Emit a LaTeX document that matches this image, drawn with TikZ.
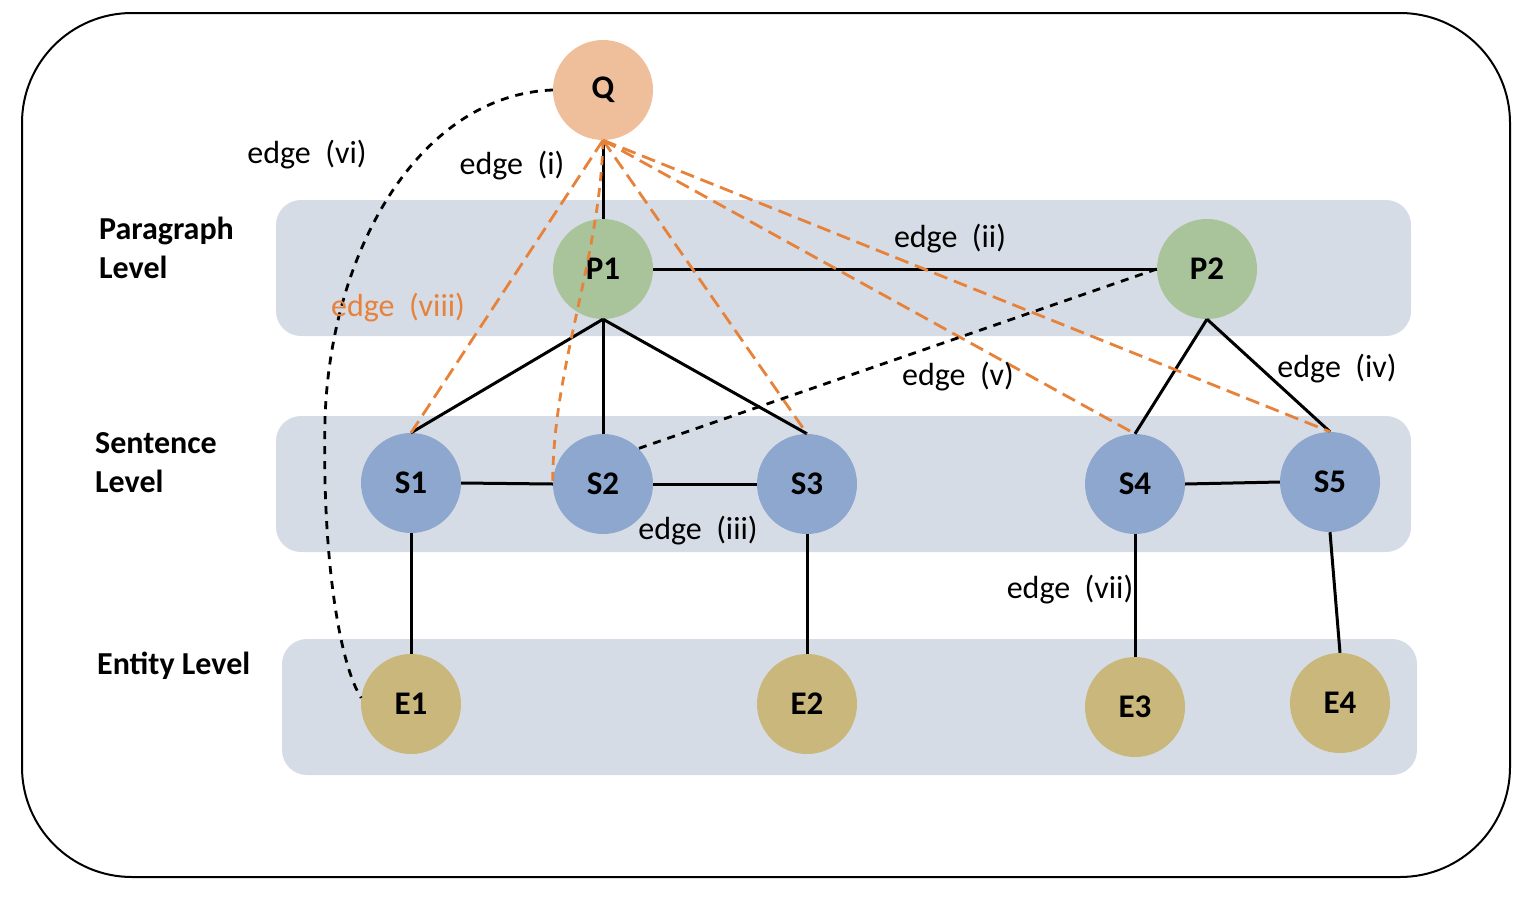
\documentclass[tikz,border=0pt]{standalone}
\usepackage{fontspec}
\setmainfont{Carlito}
\definecolor{band}{HTML}{D6DCE5}
\definecolor{qcol}{HTML}{EFBF9C}
\definecolor{pcol}{HTML}{A9C49B}
\definecolor{scol}{HTML}{8EA7CF}
\definecolor{ecol}{HTML}{C9B77B}
\definecolor{orng}{HTML}{E6823A}
\tikzset{
  vnode/.style={circle, minimum size=100pt, inner sep=0pt, font=\fontsize{33}{38}\selectfont\bfseries},
  qnode/.style={vnode, fill=qcol},
  pnode/.style={vnode, fill=pcol},
  snode/.style={vnode, fill=scol},
  enode/.style={vnode, fill=ecol},
  bandbox/.style={fill=band, rounded corners=25pt},
  solidedge/.style={line width=3pt, black},
  oedge/.style={line width=2.8pt, orng, dash pattern=on 14pt off 7pt},
  oshort/.style={line width=2.8pt, orng, dash pattern=on 9pt off 7pt},
  bedge/.style={line width=2.8pt, black, dash pattern=on 8pt off 7pt},
  elabel/.style={font=\fontsize{32}{38}\selectfont, inner sep=0pt},
  lvlabel/.style={font=\fontsize{32}{39}\selectfont\bfseries, align=left, anchor=west, inner sep=0pt}
}
\begin{document}
\begin{tikzpicture}[x=1pt, y=-1pt]
\useasboundingbox (0,0) rectangle (1530,902);
% outer frame
\draw[line width=2pt, rounded corners=110pt] (22,13) rectangle (1510,877);
% bands
\fill[bandbox] (276,200) rectangle (1411,336);
\fill[bandbox] (276,416) rectangle (1411,552);
\fill[bandbox] (282,639) rectangle (1417,775);
% level labels
\node[lvlabel] (lp) at (99,248) {Paragraph\\Level};
\node[lvlabel] (ls) at (95,463) {Sentence\\Level};
\node[lvlabel] (le) at (97,666) {Entity Level};
% nodes
\node[qnode] (Q) at (603,90) {Q};
\node[pnode] (P1) at (603,269) {P1};
\node[pnode] (P2) at (1207,269) {P2};
\node[snode] (S1) at (411,483) {S1};
\node[snode] (S2) at (603,484) {S2};
\node[snode] (S3) at (807,484) {S3};
\node[snode] (S4) at (1135,484) {S4};
\node[snode] (S5) at (1330,482) {S5};
\node[enode] (E1) at (411,704) {E1};
\node[enode] (E2) at (807,704) {E2};
\node[enode] (E3) at (1135,707) {E3};
\node[enode] (E4) at (1340,703) {E4};
% solid edges
\draw[solidedge] (Q.south) -- (P1.north);
\draw[solidedge] (P1.east) -- (P2.west);
\draw[solidedge] (P1.south) -- (S1.north);
\draw[solidedge] (P1.south) -- (S2.north);
\draw[solidedge] (P1.south) -- (S3.north);
\draw[solidedge] (P2.south) -- (S4.north);
\draw[solidedge] (P2.south) -- (S5.north);
\draw[solidedge] (S1.east) -- (S2.west);
\draw[solidedge] (S2.east) -- (S3.west);
\draw[solidedge] (S4.east) -- (S5.west);
\draw[solidedge] (S1.south) -- (E1.north);
\draw[solidedge] (S3.south) -- (E2.north);
\draw[solidedge] (S4.south) -- (E3.north);
\draw[solidedge] (S5.south) -- (E4.north);
% orange dashed edges
\draw[oedge] (Q.south) -- (S1.north);
\draw[oedge] (Q.south) -- (S3.north);
\draw[oedge] (Q.south) -- (S4.north);
\draw[oedge] (Q.south) -- (S5.north);
\draw[oshort] (Q.south) .. controls (600,260) and (552,370) .. (S2.west);
% black dashed edges
\draw[bedge] (P2.west) -- (S2.45);
\draw[bedge] (Q.west) .. controls (420,95) and (330,250) .. (325,420)
  .. controls (322,560) and (340,665) .. (E1.173);
% edge labels
\node[elabel] (l1) at (512,166) {edge~~(i)};
\node[elabel] (l2) at (950,239) {edge~~(ii)};
\node[elabel] (l3) at (698,531) {edge~~(iii)};
\node[elabel] (l4) at (1337,369) {edge~~(iv)};
\node[elabel] (l5) at (958,377) {edge~~(v)};
\node[elabel] (l6) at (307,155) {edge~~(vi)};
\node[elabel] (l7) at (1070,590) {edge~~(vii)};
\node[elabel, text=orng] (l8) at (398,308) {edge~~(viii)};
\end{tikzpicture}
\end{document}
